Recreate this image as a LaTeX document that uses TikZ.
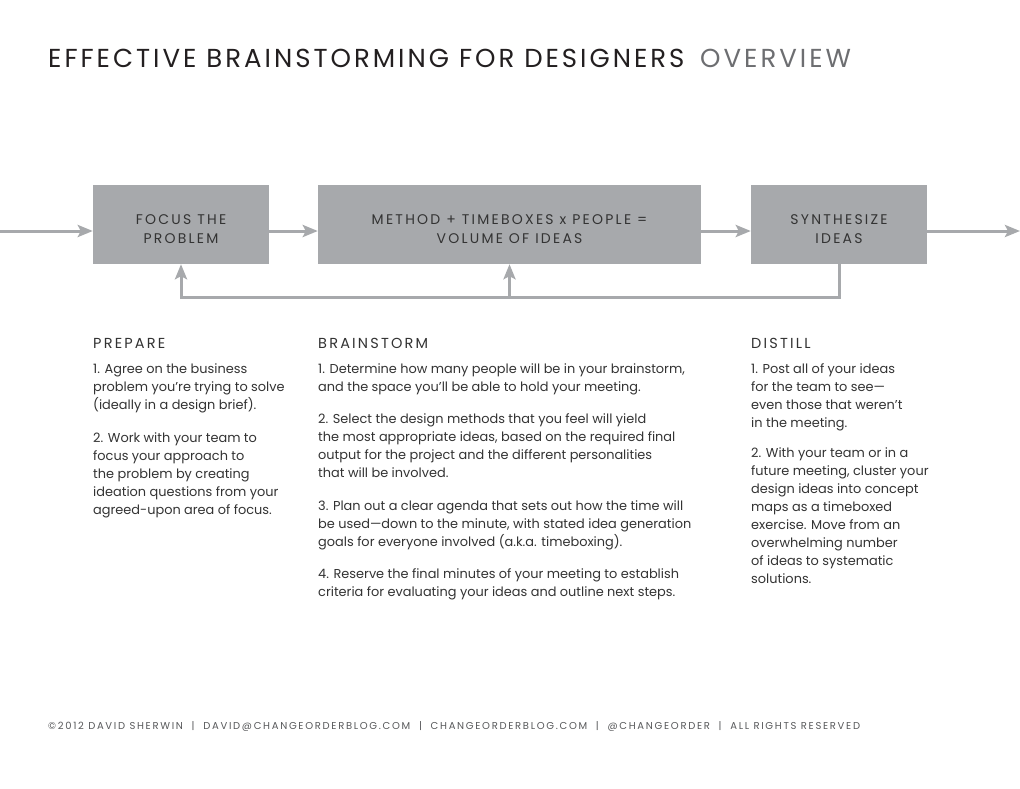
\documentclass[tikz,border=0pt]{standalone}
\usepackage{fontspec}
\setmainfont{Poppins}
\newfontfamily\boxfont[LetterSpace=16]{Poppins}
\newfontfamily\headfont[LetterSpace=15]{Poppins}
\newfontfamily\footfont[LetterSpace=17]{Poppins}
\newfontfamily\titlefont[LetterSpace=11.5]{Poppins}
\usetikzlibrary{arrows.meta}
\definecolor{boxgray}{HTML}{A7A9AC}
\definecolor{textdark}{HTML}{333333}
\definecolor{titledark}{HTML}{231F20}
\definecolor{titlegray}{HTML}{6D6E71}
\definecolor{footgray}{HTML}{58595B}
\tikzset{
  flow/.style={draw=boxgray, line width=3pt, -{Stealth[length=15pt,width=12pt,inset=3pt]}},
  stage/.style={fill=boxgray, draw=none, minimum height=79pt, inner sep=0pt},
  stagetext/.style={anchor=base, inner sep=0pt, text=textdark, font=\boxfont\fontsize{14}{16}\selectfont},
  head/.style={anchor=base west, inner sep=0pt, text=textdark, font=\headfont\fontsize{14.5}{17}\selectfont},
  body/.style={anchor=base west, inner sep=0pt, text=textdark, font=\fontsize{12.9}{15}\selectfont},
  titlestyle/.style={anchor=base west, inner sep=0pt, font=\titlefont\fontsize{26}{30}\selectfont},
  foot/.style={anchor=base west, inner sep=0pt, text=footgray, font=\footfont\fontsize{10}{12}\selectfont}
}
\begin{document}
\begin{tikzpicture}[x=1pt,y=-1pt]
\useasboundingbox[fill=white] (0,0) rectangle (1020,788);

% title
\node[titlestyle, text=titledark] (title) at (48,67.5) {EFFECTIVE BRAINSTORMING FOR DESIGNERS};
\node[titlestyle, text=titlegray] (overview) at (700,67.5) {OVERVIEW};

% stages
\node[stage, minimum width=176pt] (focus) at (181,224.5) {};
\node[stage, minimum width=383pt] (method) at (509.5,224.5) {};
\node[stage, minimum width=176pt] (synth) at (839,224.5) {};

\node[stagetext] (focus1) at (181,224) {FOCUS THE};
\node[stagetext] (focus2) at (181,243.5) {PROBLEM};
\node[stagetext] (method1) at (509.5,224) {METHOD + TIMEBOXES x PEOPLE =};
\node[stagetext] (method2) at (509.5,243.5) {VOLUME OF IDEAS};
\node[stagetext] (synth1) at (839,224) {SYNTHESIZE};
\node[stagetext] (synth2) at (839,243.5) {IDEAS};

% main flow
\coordinate (in) at (0,231);
\coordinate (out) at (1020,231);
\coordinate (loop) at (0,297);
\draw[flow] (in) -- (focus.west |- in);
\draw[flow] (focus.east |- in) -- (method.west |- in);
\draw[flow] (method.east |- in) -- (synth.west |- in);
\draw[flow] (synth.east |- in) -- (out);
\draw[flow] (synth.south) |- (focus.south |- loop) -- (focus.south);
\draw[flow] (method.south |- loop) -- (method.south);

% headings
\node[head] (prepare) at (93,348) {PREPARE};
\node[head] (brainstorm) at (318,348) {BRAINSTORM};
\node[head] (distill) at (751,348) {DISTILL};

% PREPARE
\foreach \t [count=\i] in {{1. Agree on the business},{problem you’re trying to solve},{(ideally in a design brief).}}
  \node[body] (pa-\i) at (93,373+18*\i-18) {\t};
\foreach \t [count=\i] in {{2. Work with your team to},{focus your approach to},{the problem by creating},{ideation questions from your},{agreed-upon area of focus.}}
  \node[body] (pb-\i) at (93,442+18*\i-18) {\t};

% BRAINSTORM
\foreach \t [count=\i] in {{1. Determine how many people will be in your brainstorm,},{and the space you'll be able to hold your meeting.}}
  \node[body] (ba-\i) at (318,373+18*\i-18) {\t};
\foreach \t [count=\i] in {{2. Select the design methods that you feel will yield},{the most appropriate ideas, based on the required final},{output for the project and the different personalities},{that will be involved.}}
  \node[body] (bb-\i) at (318,423+18*\i-18) {\t};
\foreach \t [count=\i] in {{3. Plan out a clear agenda that sets out how the time will},{be used—down to the minute, with stated idea generation},{goals for everyone involved (a.k.a. timeboxing).}}
  \node[body] (bc-\i) at (318,510+18*\i-18) {\t};
\foreach \t [count=\i] in {{4. Reserve the final minutes of your meeting to establish},{criteria for evaluating your ideas and outline next steps.}}
  \node[body] (bd-\i) at (318,578+18*\i-18) {\t};

% DISTILL
\foreach \t [count=\i] in {{1. Post all of your ideas},{for the team to see—},{even those that weren’t},{in the meeting.}}
  \node[body] (da-\i) at (751,373+18*\i-18) {\t};
\foreach \t [count=\i] in {{2. With your team or in a},{future meeting, cluster your},{design ideas into concept},{maps as a timeboxed},{exercise. Move from an},{overwhelming number},{of ideas to systematic},{solutions.}}
  \node[body] (db-\i) at (751,457+18*\i-18) {\t};

% footer
\node[foot] (footer) at (48,729.5) {©2012 DAVID SHERWIN \ | \ DAVID@CHANGEORDERBLOG.COM \ | \ CHANGEORDERBLOG.COM \ | \ @CHANGEORDER \ | \ ALL RIGHTS RESERVED};
\end{tikzpicture}
\end{document}
